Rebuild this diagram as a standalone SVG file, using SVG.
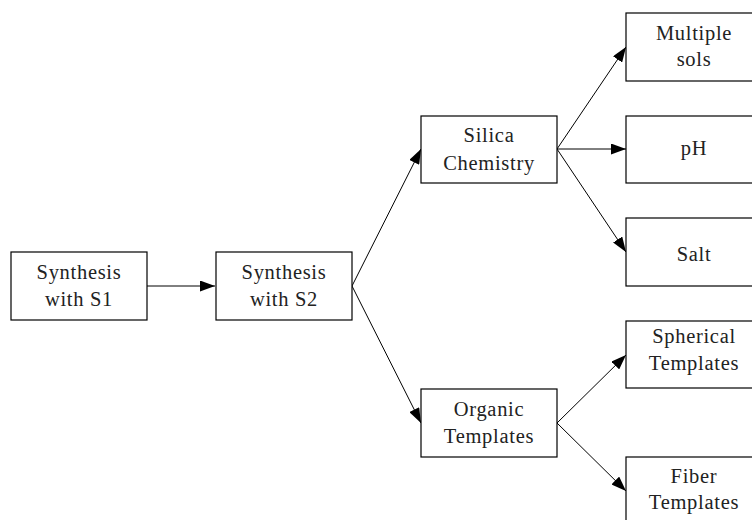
<svg xmlns="http://www.w3.org/2000/svg" width="752" height="520" viewBox="0 0 752 520">
<style>
.box{fill:#fff;stroke:#000;stroke-width:1.2}
.t{font-family:"Liberation Serif","DejaVu Serif",serif;font-size:20.5px;letter-spacing:0.7px;fill:#222;text-anchor:middle}
.c{stroke:#000;stroke-width:1;fill:none;marker-end:url(#ah)}
</style>
<defs>
<marker id="ah" viewBox="0 0 15 11" refX="15" refY="5.5" markerWidth="15" markerHeight="11" markerUnits="userSpaceOnUse" orient="auto">
<path d="M0,0 L15,5.5 L0,11 Z" fill="#000"/>
</marker>
</defs>
<rect width="752" height="520" fill="#fff"/>
<g id="connectors">
<line class="c" x1="147" y1="286" x2="215" y2="286"/>
<line class="c" x1="352" y1="286" x2="421" y2="149"/>
<line class="c" x1="352" y1="286" x2="421" y2="423"/>
<line class="c" x1="557" y1="149" x2="626" y2="47"/>
<line class="c" x1="557" y1="149" x2="626" y2="149"/>
<line class="c" x1="557" y1="149" x2="626" y2="252"/>
<line class="c" x1="557" y1="423" x2="626" y2="355"/>
<line class="c" x1="557" y1="423" x2="626" y2="491"/>
</g>
<g id="s1">
<rect class="box" x="11" y="252" width="136" height="68"/>
<text class="t" x="79" y="279">Synthesis</text>
<text class="t" x="79" y="306">with S1</text>
</g>
<g id="s2">
<rect class="box" x="216" y="252" width="136" height="68"/>
<text class="t" x="284" y="279">Synthesis</text>
<text class="t" x="284" y="306">with S2</text>
</g>
<g id="silica">
<rect class="box" x="421" y="116" width="136" height="67"/>
<text class="t" x="489" y="142">Silica</text>
<text class="t" x="489" y="170">Chemistry</text>
</g>
<g id="organic">
<rect class="box" x="421" y="389" width="136" height="68"/>
<text class="t" x="489" y="416">Organic</text>
<text class="t" x="489" y="443">Templates</text>
</g>
<g id="multiple">
<rect class="box" x="626" y="13" width="136" height="68"/>
<text class="t" x="694" y="40">Multiple</text>
<text class="t" x="694" y="66">sols</text>
</g>
<g id="ph">
<rect class="box" x="626" y="116" width="136" height="67"/>
<text class="t" x="694" y="155">pH</text>
</g>
<g id="salt">
<rect class="box" x="626" y="218" width="136" height="68"/>
<text class="t" x="694" y="261">Salt</text>
</g>
<g id="spherical">
<rect class="box" x="626" y="321" width="136" height="67"/>
<text class="t" x="694" y="343">Spherical</text>
<text class="t" x="694" y="370">Templates</text>
</g>
<g id="fiber">
<rect class="box" x="626" y="457" width="136" height="68"/>
<text class="t" x="694" y="483">Fiber</text>
<text class="t" x="694" y="509">Templates</text>
</g>
</svg>
